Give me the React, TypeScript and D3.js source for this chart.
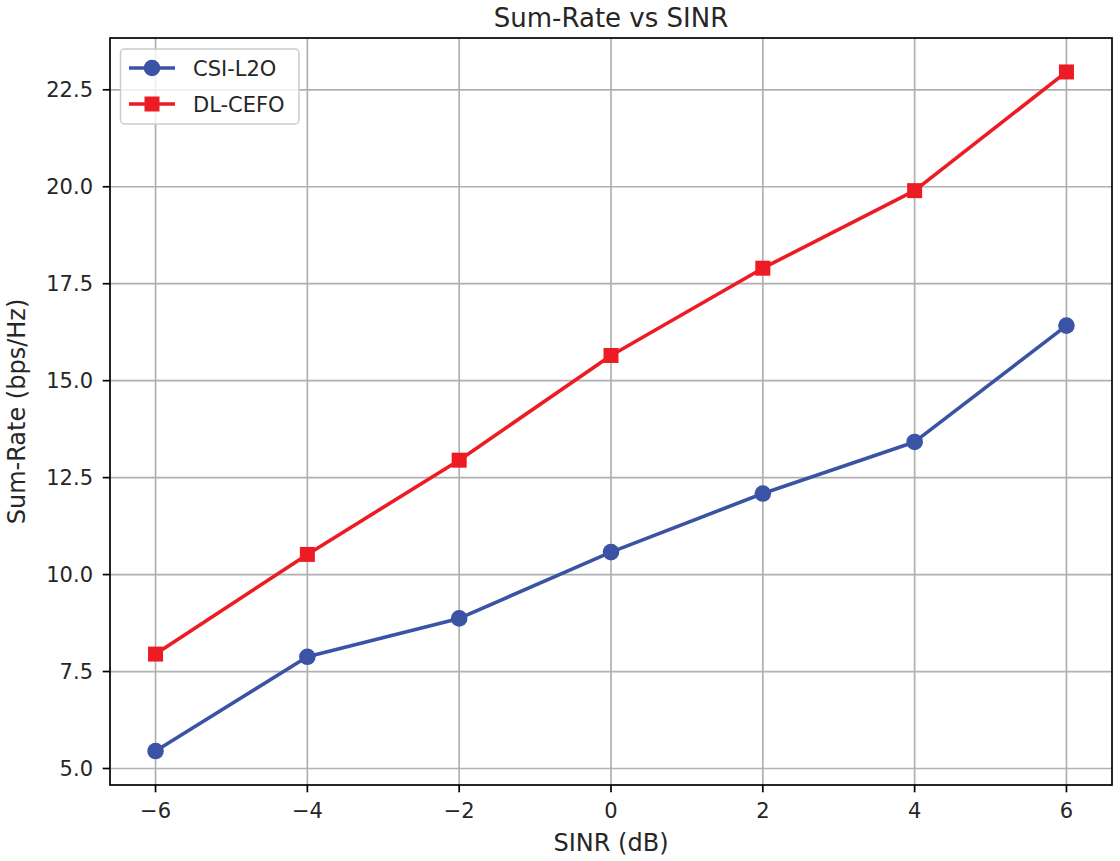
import React from "react";
import * as d3 from "d3";

const sinr = [-6, -4, -2, 0, 2, 4, 6];
const csiL2O = [5.45, 7.88, 8.87, 10.58, 12.09, 13.42, 16.42];
const dlCefo = [7.95, 10.52, 12.95, 15.65, 17.9, 19.9, 22.96];
const xTicks = [-6, -4, -2, 0, 2, 4, 6];
const yTicks = [5.0, 7.5, 10.0, 12.5, 15.0, 17.5, 20.0, 22.5];
const seriesNames = ["CSI-L2O", "DL-CEFO"];
const seriesColors = ["#3a53a4", "#ed1c24"];

const W = 1120;
const H = 861;
const FONT = "'DejaVu Sans', sans-serif";

export default function App() {
  const left = 110, right = 1112, top = 38, bottom = 785;
  const x = d3.scaleLinear().domain([-6.6, 6.6]).range([left, right]);
  const allY = [...csiL2O, ...dlCefo];
  const yMin = d3.min(allY)!, yMax = d3.max(allY)!;
  const m = (yMax - yMin) * 0.05;
  const y = d3.scaleLinear().domain([yMin - m, yMax + m]).range([bottom, top]);
  const line = d3.line<number>().x((_, i) => x(sinr[i])).y((d) => y(d));
  const fmtX = (v: number) => (v < 0 ? "\u2212" + Math.abs(v) : String(v));
  const data = [csiL2O, dlCefo];

  const marker = (k: number, cx: number, cy: number, key: string) =>
    k === 0 ? (
      <circle key={key} cx={cx} cy={cy} r={8.3} fill={seriesColors[0]} />
    ) : (
      <rect key={key} x={cx - 7.5} y={cy - 7.5} width={15} height={15} fill={seriesColors[1]} />
    );

  return (
    <svg width={W} height={H} style={{ position: "absolute", left: 0, top: 0, background: "#fff" }} fontFamily={FONT}>
      <rect x={0} y={0} width={W} height={H} fill="#fff" />
      {/* grid */}
      {xTicks.map((t) => (
        <line key={"gx" + t} x1={x(t)} x2={x(t)} y1={top} y2={bottom} stroke="#b0b0b0" strokeWidth={1.7} />
      ))}
      {yTicks.map((t) => (
        <line key={"gy" + t} x1={left} x2={right} y1={y(t)} y2={y(t)} stroke="#b0b0b0" strokeWidth={1.7} />
      ))}
      {/* series */}
      {data.map((s, k) => (
        <g key={"s" + k}>
          <path d={line(s)!} fill="none" stroke={seriesColors[k]} strokeWidth={3.6} strokeLinejoin="round" strokeLinecap="round" />
          {s.map((v, i) => marker(k, x(sinr[i]), y(v), "m" + k + "-" + i))}
        </g>
      ))}
      {/* spines */}
      <rect x={left} y={top} width={right - left} height={bottom - top} fill="none" stroke="#000" strokeWidth={1.7} />
      {/* ticks */}
      {xTicks.map((t) => (
        <g key={"tx" + t}>
          <line x1={x(t)} x2={x(t)} y1={bottom} y2={bottom + 7.3} stroke="#000" strokeWidth={1.7} />
          <text x={x(t)} y={818} textAnchor="middle" fontSize={21} fill="#262626">{fmtX(t)}</text>
        </g>
      ))}
      {yTicks.map((t) => (
        <g key={"ty" + t}>
          <line x1={left - 7.3} x2={left} y1={y(t)} y2={y(t)} stroke="#000" strokeWidth={1.7} />
          <text x={93} y={y(t) + 7.7} textAnchor="end" fontSize={21} fill="#262626">{t.toFixed(1)}</text>
        </g>
      ))}
      {/* title & labels */}
      <text x={(left + right) / 2} y={27} textAnchor="middle" fontSize={26} fill="#262626">Sum-Rate vs SINR</text>
      <text x={(left + right) / 2} y={851} textAnchor="middle" fontSize={24} fill="#262626">SINR (dB)</text>
      <text transform={`translate(25, ${(top + bottom) / 2}) rotate(-90)`} textAnchor="middle" fontSize={24} fill="#262626">Sum-Rate (bps/Hz)</text>
      {/* legend */}
      <rect x={120.5} y={49} width={178.5} height={75} rx={4} fill="#fff" fillOpacity={0.8} stroke="#cccccc" strokeWidth={1.5} />
      {seriesNames.map((n, k) => {
        const cy = 68 + k * 36;
        return (
          <g key={"l" + k}>
            <line x1={129} x2={175} y1={cy} y2={cy} stroke={seriesColors[k]} strokeWidth={3.6} />
            {marker(k, 152, cy, "lm" + k)}
            <text x={193} y={cy + 7.5} fontSize={21} fill="#262626">{n}</text>
          </g>
        );
      })}
    </svg>
  );
}
